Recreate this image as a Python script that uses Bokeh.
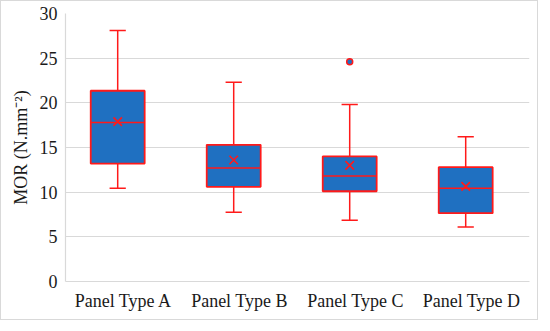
from bokeh.plotting import figure
from bokeh.models import Range1d, FixedTicker, ColumnDataSource
from bokeh.embed import file_html
from bokeh.resources import INLINE

categories = ["Panel Type A", "Panel Type B", "Panel Type C", "Panel Type D"]
whisker_low = [10.45, 7.75, 6.85, 6.1]
q1 = [13.2, 10.6, 10.1, 7.65]
median = [17.8, 12.7, 11.8, 10.45]
q3 = [21.35, 15.3, 14.0, 12.8]
whisker_high = [28.1, 22.3, 19.8, 16.2]
means = [17.9, 13.6, 13.0, 10.65]
outlier_cat = [3]
outlier_val = [24.6]
y_ticks = [0, 5, 10, 15, 20, 25, 30]

BLUE = "#1F70C1"
RED = "#FF1A1A"
GRID = "#D9D9D9"
FONT = "Liberation Serif"

offset = -0.05
box_w = 0.465
cap_w = 0.14
pos = [i + 1 + offset for i in range(len(categories))]

src = ColumnDataSource(dict(
    x=pos, lo=whisker_low, q1=q1, med=median, q3=q3, hi=whisker_high, mean=means,
    cl=[x - cap_w / 2 for x in pos], cr=[x + cap_w / 2 for x in pos],
    bl=[x - box_w / 2 for x in pos], br=[x + box_w / 2 for x in pos],
))

p = figure(width=538, height=320, output_backend="svg", toolbar_location=None,
           x_range=Range1d(0.5, 4.5), y_range=Range1d(0, 30))
p.min_border_left = 64
p.min_border_right = 10
p.min_border_top = 12
p.min_border_bottom = 40
p.outline_line_color = None
p.styles = {"border": "1px solid #D9D9D9"}

# whiskers
p.segment("x", "q3", "x", "hi", source=src, line_color=RED, line_width=1.5)
p.segment("x", "lo", "x", "q1", source=src, line_color=RED, line_width=1.5)
p.segment("cl", "hi", "cr", "hi", source=src, line_color=RED, line_width=1.5)
p.segment("cl", "lo", "cr", "lo", source=src, line_color=RED, line_width=1.5)
# boxes
p.vbar(x="x", width=box_w, bottom="q1", top="q3", source=src,
       fill_color=BLUE, line_color=RED, line_width=1.8)
p.segment("bl", "med", "br", "med", source=src, line_color=RED, line_width=1.5)
# means
p.scatter("x", "mean", source=src, marker="x", size=12, line_color=RED, line_width=1.6)
# outliers
p.scatter([c + offset for c in outlier_cat], outlier_val, marker="circle", size=6,
          fill_color=BLUE, line_color=RED, line_width=1.5)

p.xgrid.grid_line_color = None
p.ygrid.grid_line_color = GRID
p.ygrid.grid_line_width = 1.2

p.xaxis.ticker = FixedTicker(ticks=[1, 2, 3, 4])
p.xaxis.major_label_overrides = {i + 1: c for i, c in enumerate(categories)}
p.yaxis.ticker = FixedTicker(ticks=y_ticks)
for ax in (p.xaxis, p.yaxis):
    ax.axis_line_color = GRID
    ax.axis_line_width = 1.2
    ax.major_tick_line_color = None
    ax.minor_tick_line_color = None
    ax.major_tick_in = 0
    ax.major_tick_out = 0
    ax.major_label_text_font = FONT
    ax.major_label_text_font_size = "18px"
    ax.major_label_text_color = "#1A1A1A"
p.xaxis.major_label_standoff = 9
p.yaxis.major_label_standoff = 8
p.yaxis.axis_label = "MOR (N.mm⁻²)"
p.yaxis.axis_label_text_font = FONT
p.yaxis.axis_label_text_font_size = "18px"
p.yaxis.axis_label_text_font_style = "normal"
p.yaxis.axis_label_text_color = "#1A1A1A"
p.yaxis.axis_label_standoff = 6

open("out.html", "w").write(file_html(p, INLINE))
